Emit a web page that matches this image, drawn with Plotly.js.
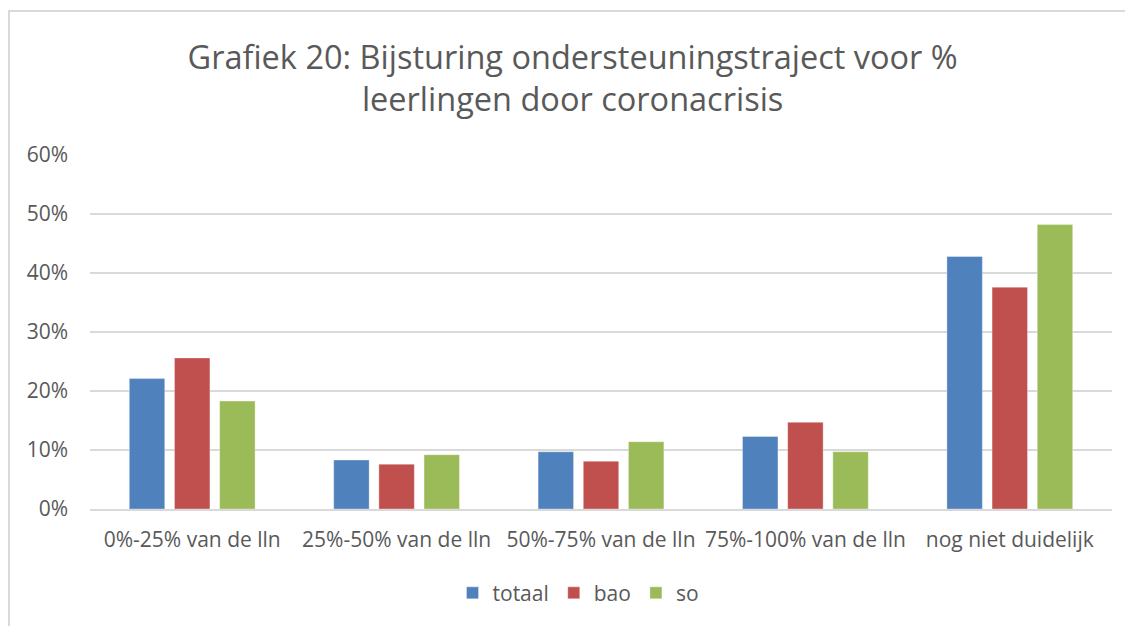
<!DOCTYPE html>
<html>
<head>
<meta charset="utf-8">
<script src="https://cdn.plot.ly/plotly-3.0.1.min.js"></script>
<style>
html,body{margin:0;padding:0;background:#fff;}
#wrap{position:relative;width:1125px;height:626px;}
#chart{position:absolute;left:0;top:0;width:1125px;height:626px;}
#frame{position:absolute;left:8px;top:10px;width:1130px;height:640px;border:2px solid #d9d9d9;box-sizing:border-box;pointer-events:none;}
</style>
</head>
<body>
<div id="wrap">
<div id="chart"></div>
<div id="frame"></div>
</div>
<script>
var categories = ["0%-25% van de lln", "25%-50% van de lln", "50%-75% van de lln", "75%-100% van de lln", "nog niet duidelijk"];
var totaal = [0.221, 0.083, 0.097, 0.123, 0.428];
var bao    = [0.256, 0.076, 0.081, 0.147, 0.376];
var so     = [0.183, 0.092, 0.114, 0.097, 0.482];
var yTicks = [0, 0.1, 0.2, 0.3, 0.4, 0.5, 0.6];
var yTickLabels = ["0%", "10%", "20%", "30%", "40%", "50%", "60%"];

var FONT = "'Open Sans', sans-serif";
var TXT = "#595959";

function mk(name, vals, color){
  return {type:"bar", name:name, x:categories, y:vals,
    marker:{color:color, line:{color:"rgba(255,255,255,0.35)", width:1}},
    hoverinfo:"x+y+name"};
}
var data = [mk("totaal", totaal, "#4F81BD"), mk("bao", bao, "#C0504D"), mk("so", so, "#9BBB59")];

var layout = {
  width:1125, height:626,
  margin:{l:90, r:13, t:155, b:115},
  paper_bgcolor:"#fff", plot_bgcolor:"#fff",
  font:{family:FONT, color:TXT, size:21},
  title:{text:"Grafiek 20: Bijsturing ondersteuningstraject voor %<br>leerlingen door coronacrisis",
    font:{family:FONT, size:32.5, color:TXT}, x:0.509, xanchor:"center", y:0.89, yanchor:"middle"},
  barmode:"group", bargap:0.337, bargroupgap:0.215,
  xaxis:{type:"category", showgrid:false, showline:true, linecolor:"#d9d9d9", linewidth:2,
    ticks:"", tickfont:{size:21, color:TXT}, ticklabelstandoff:11, fixedrange:true},
  yaxis:{range:[0,0.6], tickvals:yTicks, ticktext:yTickLabels, showgrid:true,
    gridcolor:"#d9d9d9", gridwidth:1.5, zeroline:false, showline:false, ticks:"",
    ticklabelstandoff:21, tickfont:{size:21, color:TXT}, fixedrange:true},
  legend:{orientation:"h", x:0.478, xanchor:"center", y:-0.18, yanchor:"top",
    font:{size:21, color:TXT}, itemwidth:16, traceorder:"normal"},
  showlegend:true
};
Plotly.newPlot("chart", data, layout, {displayModeBar:false, staticPlot:false});
</script>
</body>
</html>
